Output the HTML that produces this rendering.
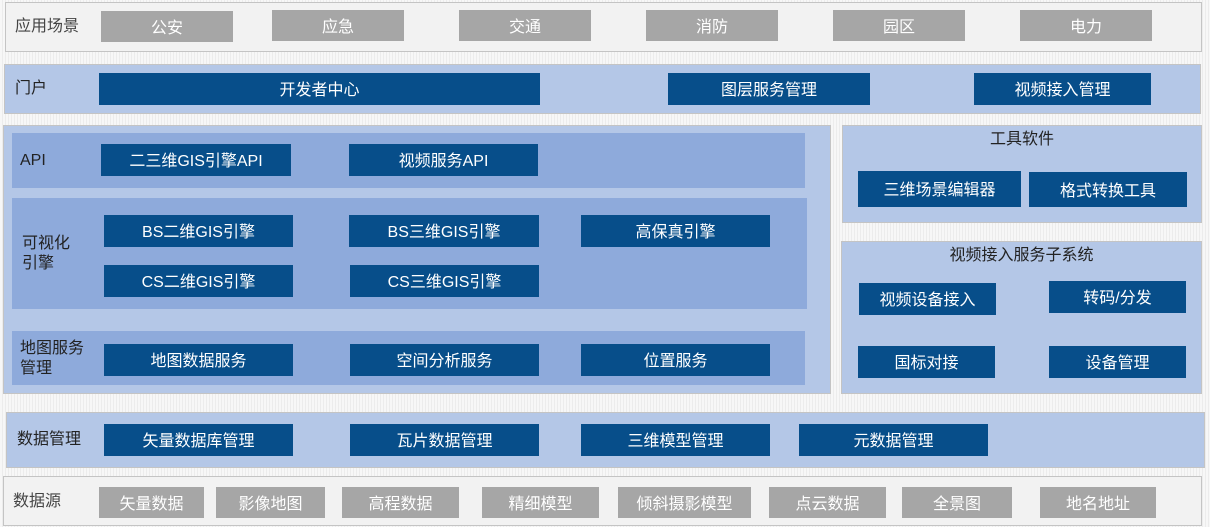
<!DOCTYPE html><html><head><meta charset="utf-8"><style>
body{margin:0;width:1210px;height:527px;position:relative;overflow:hidden;background:repeating-linear-gradient(90deg,#f7f7f7 0 2px,#ececec 2px 3px);font-family:"Liberation Sans","Noto Sans CJK SC",sans-serif;}
div{position:absolute;box-sizing:border-box;}
.p{border:1px solid #c4c4c4}
.g{background:#f2f2f2}.l{background:#b4c7e7}.m{background:#8eaadb}
.b{background:#074e8a;color:#fff;display:flex;align-items:center;justify-content:center;font-size:16px;padding-bottom:2px}
.y{background:#a6a6a6;color:#fff;display:flex;align-items:center;justify-content:center;font-size:16px;padding-bottom:2px}
.t{font-size:16px;color:#222;line-height:20px}
</style></head><body>
<div class="p g" style="left:5px;top:2px;width:1197px;height:50px"></div>
<div class="t" style="left:15px;top:17px;color:#444">应用场景</div>
<div class="y" style="left:101px;top:11px;width:132px;height:31px">公安</div>
<div class="y" style="left:272px;top:10px;width:132px;height:31px">应急</div>
<div class="y" style="left:459px;top:10px;width:132px;height:31px">交通</div>
<div class="y" style="left:646px;top:10px;width:132px;height:31px">消防</div>
<div class="y" style="left:833px;top:10px;width:132px;height:31px">园区</div>
<div class="y" style="left:1020px;top:10px;width:132px;height:31px">电力</div>

<div class="p l" style="left:4px;top:64px;width:1197px;height:50px"></div>
<div class="t" style="left:15px;top:79px">门户</div>
<div class="b" style="left:99px;top:73px;width:441px;height:32px">开发者中心</div>
<div class="b" style="left:668px;top:73px;width:202px;height:32px">图层服务管理</div>
<div class="b" style="left:974px;top:73px;width:177px;height:32px">视频接入管理</div>

<div class="p l" style="left:3px;top:125px;width:828px;height:269px"></div>
<div class="m" style="left:12px;top:133px;width:793px;height:55px"></div>
<div class="t" style="left:20px;top:151px">API</div>
<div class="b" style="left:101px;top:144px;width:190px;height:32px">二三维GIS引擎API</div>
<div class="b" style="left:349px;top:144px;width:189px;height:32px">视频服务API</div>
<div class="m" style="left:12px;top:198px;width:795px;height:111px"></div>
<div class="t" style="left:22px;top:234px">可视化<br>引擎</div>
<div class="b" style="left:104px;top:215px;width:189px;height:32px">BS二维GIS引擎</div>
<div class="b" style="left:349px;top:215px;width:190px;height:32px">BS三维GIS引擎</div>
<div class="b" style="left:581px;top:215px;width:189px;height:32px">高保真引擎</div>
<div class="b" style="left:104px;top:265px;width:189px;height:32px">CS二维GIS引擎</div>
<div class="b" style="left:350px;top:265px;width:189px;height:32px">CS三维GIS引擎</div>
<div class="m" style="left:12px;top:331px;width:793px;height:54px"></div>
<div class="t" style="left:20px;top:339px">地图服务<br>管理</div>
<div class="b" style="left:104px;top:344px;width:189px;height:32px">地图数据服务</div>
<div class="b" style="left:350px;top:344px;width:189px;height:32px">空间分析服务</div>
<div class="b" style="left:581px;top:344px;width:189px;height:32px">位置服务</div>

<div class="p l" style="left:842px;top:125px;width:360px;height:98px"></div>
<div class="t" style="left:842px;top:130px;width:360px;text-align:center">工具软件</div>
<div class="b" style="left:858px;top:171px;width:163px;height:36px">三维场景编辑器</div>
<div class="b" style="left:1029px;top:172px;width:158px;height:35px">格式转换工具</div>

<div class="p l" style="left:841px;top:241px;width:361px;height:153px"></div>
<div class="t" style="left:841px;top:246px;width:361px;text-align:center">视频接入服务子系统</div>
<div class="b" style="left:859px;top:283px;width:137px;height:32px">视频设备接入</div>
<div class="b" style="left:1049px;top:281px;width:137px;height:32px">转码/分发</div>
<div class="b" style="left:858px;top:346px;width:137px;height:32px">国标对接</div>
<div class="b" style="left:1049px;top:346px;width:137px;height:32px">设备管理</div>

<div class="p l" style="left:6px;top:412px;width:1199px;height:56px"></div>
<div class="t" style="left:17px;top:430px">数据管理</div>
<div class="b" style="left:104px;top:424px;width:189px;height:32px">矢量数据库管理</div>
<div class="b" style="left:350px;top:424px;width:189px;height:32px">瓦片数据管理</div>
<div class="b" style="left:581px;top:424px;width:189px;height:32px">三维模型管理</div>
<div class="b" style="left:799px;top:424px;width:189px;height:32px">元数据管理</div>

<div class="p g" style="left:3px;top:476px;width:1199px;height:50px"></div>
<div class="t" style="left:13px;top:492px;color:#444">数据源</div>
<div class="y" style="left:99px;top:487px;width:105px;height:31px">矢量数据</div>
<div class="y" style="left:216px;top:487px;width:109px;height:31px">影像地图</div>
<div class="y" style="left:342px;top:487px;width:117px;height:31px">高程数据</div>
<div class="y" style="left:482px;top:487px;width:117px;height:31px">精细模型</div>
<div class="y" style="left:618px;top:487px;width:133px;height:31px">倾斜摄影模型</div>
<div class="y" style="left:769px;top:487px;width:117px;height:31px">点云数据</div>
<div class="y" style="left:902px;top:487px;width:110px;height:31px">全景图</div>
<div class="y" style="left:1040px;top:487px;width:116px;height:31px">地名地址</div>
</body></html>
